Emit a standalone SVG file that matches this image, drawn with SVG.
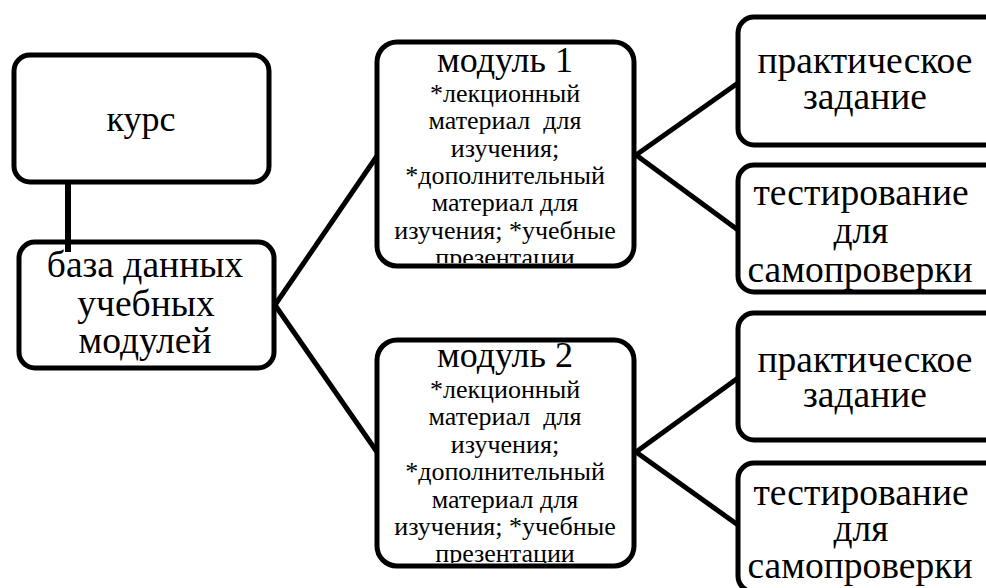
<svg xmlns="http://www.w3.org/2000/svg" width="986" height="588" viewBox="0 0 986 588">
<style>
.box{fill:#fff;stroke:#000;stroke-width:5}
text{font-family:'Liberation Serif','Times New Roman',serif;fill:#000;text-anchor:middle}
.big{font-size:36px}
.lg{font-size:37.5px}
.sm{font-size:26px;white-space:pre}
.con{stroke:#000;stroke-width:5;fill:none;stroke-linecap:butt}
</style>
<defs>
<clipPath id="c1"><rect x="380" y="45" width="252" height="218"/></clipPath>
<clipPath id="c2"><rect x="380" y="343" width="252" height="220"/></clipPath>
</defs>
<rect width="986" height="588" fill="#fff"/>
<g id="kurs">
<rect class="box" x="14" y="55" width="255" height="127" rx="16"/>
<text class="big" x="141" y="131">курс</text>
</g>
<g id="baza">
<rect class="box" x="19" y="242" width="255" height="126" rx="16"/>
<text class="lg" x="145" y="277">база данных</text>
<text class="lg" x="146" y="316">учебных</text>
<text class="lg" x="145" y="353">модулей</text>
</g>
<g id="modul1">
<rect class="box" x="377" y="42" width="257" height="224" rx="20"/>
<text class="big" x="505" y="72">модуль 1</text>
<g clip-path="url(#c1)">
<text class="sm" x="505" y="102">*лекционный</text>
<text class="sm" x="505" y="129.3" xml:space="preserve">материал  для</text>
<text class="sm" x="505" y="156.6">изучения;</text>
<text class="sm" x="505" y="183.9">*дополнительный</text>
<text class="sm" x="505" y="211.2">материал для</text>
<text class="sm" x="505" y="238.5">изучения; *учебные</text>
<text class="sm" x="505" y="265.8">презентации</text>
</g>
</g>
<g id="modul2">
<rect class="box" x="377" y="340" width="257" height="226" rx="20"/>
<text class="big" x="505" y="367">модуль 2</text>
<g clip-path="url(#c2)">
<text class="sm" x="505" y="398">*лекционный</text>
<text class="sm" x="505" y="425.4" xml:space="preserve">материал  для</text>
<text class="sm" x="505" y="452.8">изучения;</text>
<text class="sm" x="505" y="480.2">*дополнительный</text>
<text class="sm" x="505" y="507.6">материал для</text>
<text class="sm" x="505" y="535">изучения; *учебные</text>
<text class="sm" x="505" y="562.4">презентации</text>
</g>
</g>
<g id="prakt1">
<rect class="box" x="738" y="17" width="300" height="128" rx="16"/>
<text class="lg" x="865" y="73">практическое</text>
<text class="lg" x="865" y="109">задание</text>
</g>
<g id="test1">
<rect class="box" x="738" y="165" width="300" height="127" rx="16"/>
<text class="lg" x="861" y="205">тестирование</text>
<text class="lg" x="861" y="243">для</text>
<text class="lg" x="860" y="282">самопроверки</text>
</g>
<g id="prakt2">
<rect class="box" x="738" y="313" width="300" height="127" rx="16"/>
<text class="lg" x="865" y="372">практическое</text>
<text class="lg" x="865" y="407">задание</text>
</g>
<g id="test2">
<rect class="box" x="738" y="463" width="300" height="129" rx="16"/>
<text class="lg" x="861" y="505">тестирование</text>
<text class="lg" x="861" y="541">для</text>
<text class="lg" x="860" y="578">самопроверки</text>
</g>
<g id="connectors">
<line class="con" x1="68" y1="183" x2="68" y2="252" style="stroke-width:6"/>
<line class="con" x1="275" y1="305" x2="377" y2="156"/>
<line class="con" x1="275" y1="305" x2="377" y2="452"/>
<line class="con" x1="636" y1="155" x2="738" y2="83"/>
<line class="con" x1="636" y1="155" x2="738" y2="230"/>
<line class="con" x1="636" y1="452" x2="738" y2="378"/>
<line class="con" x1="636" y1="452" x2="738" y2="525"/>
</g>
</svg>
